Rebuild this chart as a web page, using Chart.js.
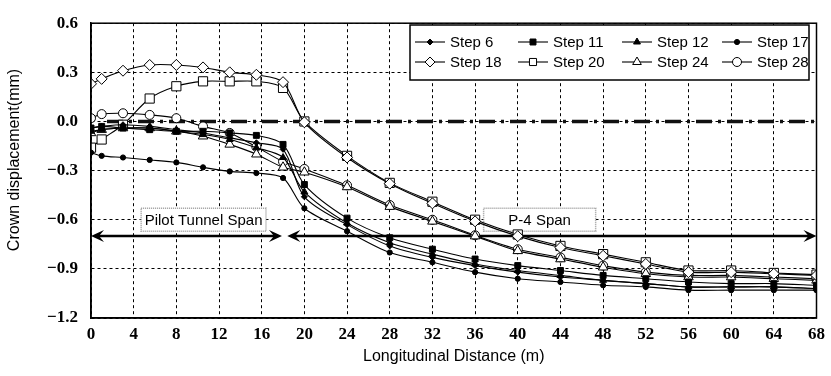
<!DOCTYPE html>
<html>
<head>
<meta charset="utf-8">
<script src="https://cdn.jsdelivr.net/npm/chart.js@4.4.0/dist/chart.umd.min.js"></script>
<style>
  html, body { margin: 0; padding: 0; background: #fff; }
  #wrap { width: 831px; height: 376px; }
</style>
</head>
<body>
<div id="wrap"><canvas id="crownChart" width="831" height="376"></canvas></div>
<script>
// longitudinal distance (m)
const distance = [0, 1, 3, 5.5, 8, 10.5, 13, 15.5, 18, 20, 24, 28, 32, 36, 40, 44, 48, 52, 56, 60, 64, 68];

// crown displacement (mm) per excavation step
const step6  = [-0.04, -0.03, -0.02, -0.03, -0.05, -0.07, -0.10, -0.13, -0.17, -0.46, -0.63, -0.76, -0.83, -0.88, -0.92, -0.95, -0.97, -0.99, -1.01, -1.01, -1.01, -1.02];
const step11 = [-0.04, -0.03, -0.04, -0.05, -0.06, -0.06, -0.07, -0.085, -0.14, -0.385, -0.59, -0.71, -0.78, -0.84, -0.88, -0.91, -0.94, -0.96, -0.98, -0.99, -0.99, -1.00];
const step12 = [-0.06, -0.05, -0.04, -0.04, -0.06, -0.08, -0.11, -0.16, -0.22, -0.43, -0.62, -0.74, -0.81, -0.87, -0.91, -0.94, -0.97, -0.99, -1.01, -1.01, -1.01, -1.02];
const step17 = [-0.19, -0.21, -0.22, -0.235, -0.25, -0.28, -0.305, -0.315, -0.345, -0.53, -0.67, -0.80, -0.86, -0.92, -0.96, -0.98, -1.00, -1.01, -1.03, -1.03, -1.03, -1.03];
const step18 = [0.23, 0.26, 0.31, 0.345, 0.345, 0.33, 0.30, 0.285, 0.24, -0.005, -0.22, -0.38, -0.50, -0.61, -0.70, -0.77, -0.82, -0.87, -0.92, -0.92, -0.93, -0.94];
const step20 = [-0.16, -0.11, -0.02, 0.14, 0.215, 0.245, 0.245, 0.245, 0.205, 0.0, -0.21, -0.375, -0.49, -0.60, -0.69, -0.76, -0.81, -0.86, -0.91, -0.91, -0.925, -0.935];
const step24 = [-0.07, -0.05, -0.04, -0.04, -0.06, -0.09, -0.14, -0.20, -0.28, -0.31, -0.40, -0.52, -0.61, -0.70, -0.79, -0.84, -0.89, -0.93, -0.95, -0.95, -0.96, -0.97];
const step28 = [0.02, 0.045, 0.05, 0.04, 0.02, -0.03, -0.07, -0.155, -0.245, -0.29, -0.39, -0.51, -0.60, -0.695, -0.78, -0.83, -0.88, -0.92, -0.94, -0.94, -0.95, -0.96];

// zero reference (thick dashed)
const zeroLineX = [1.5, 68];
const zeroLineY = [0, 0];

// axis ticks
const xTicks = { min: 0, max: 68, step: 4 };
const yTicks = { min: -1.2, max: 0.6, step: 0.3 };

// span annotations (data units)
const spanArrowY = -0.7;
const spanArrows = [[0, 17.9], [18.4, 68]];
const spanLabels = [
    { text: 'Pilot Tunnel Span', x0: 4.7, x1: 16.4, y0: -0.53, y1: -0.67 },
    { text: 'P-4 Span', x0: 36.8, x1: 47.3, y0: -0.53, y1: -0.67 }
];

function toPoints(ys, xs) {
    return ys.map((y, i) => ({ x: (xs || distance)[i], y: y }));
}

function series(label, ys, style, radius, filled) {
    return {
        label: label,
        data: toPoints(ys),
        borderColor: '#000',
        borderWidth: 1.1,
        pointStyle: style,
        pointRadius: radius,
        pointBorderWidth: 1,
        pointBorderColor: '#000',
        pointBackgroundColor: filled ? '#000' : '#fff',
        tension: 0.3,
        fill: false
    };
}

const datasets = [
    series('Step 6', step6, 'rectRot', 3, true),
    series('Step 11', step11, 'rect', 4.2, true),
    series('Step 12', step12, 'triangle', 4, true),
    series('Step 17', step17, 'circle', 2.6, true),
    series('Step 18', step18, 'rectRot', 5.5, false),
    series('Step 20', step20, 'rect', 6.5, false),
    series('Step 24', step24, 'triangle', 5.5, false),
    series('Step 28', step28, 'circle', 4.5, false),
    {
        label: 'zero',
        data: toPoints(zeroLineY, zeroLineX),
        borderColor: '#111',
        borderWidth: 3.5,
        borderDash: [16, 6, 3, 6],
        pointRadius: 0,
        tension: 0,
        fill: false,
        order: 10
    }
];

function fmt(v) {
    const s = Number(v).toFixed(1);
    return s === '-0.0' ? '0.0' : s.replace('-', '\u2212');
}

function drawArrowHead(ctx, x, y, dir) {
    ctx.beginPath();
    ctx.moveTo(x, y);
    ctx.lineTo(x - dir * 13, y - 6);
    ctx.lineTo(x - dir * 8, y);
    ctx.lineTo(x - dir * 13, y + 6);
    ctx.closePath();
    ctx.fill();
}

const overlay = {
    id: 'overlay',
    beforeDatasetsDraw(chart) {
        const { ctx, scales: { x, y } } = chart;
        ctx.save();
        // span arrows
        ctx.strokeStyle = '#000';
        ctx.fillStyle = '#000';
        ctx.lineWidth = 2.5;
        const ay = y.getPixelForValue(spanArrowY);
        spanArrows.forEach(([a, b]) => {
            const xa = x.getPixelForValue(a), xb = x.getPixelForValue(b);
            ctx.beginPath();
            ctx.moveTo(xa + 6, ay);
            ctx.lineTo(xb - 6, ay);
            ctx.stroke();
            drawArrowHead(ctx, xa, ay, -1);
            drawArrowHead(ctx, xb, ay, 1);
        });
        // span label boxes
        ctx.font = '15px "Liberation Sans", Arial, sans-serif';
        ctx.textAlign = 'center';
        ctx.textBaseline = 'middle';
        spanLabels.forEach(l => {
            const x0 = x.getPixelForValue(l.x0), x1 = x.getPixelForValue(l.x1);
            const y0 = y.getPixelForValue(l.y0), y1 = y.getPixelForValue(l.y1);
            ctx.fillStyle = '#fff';
            ctx.fillRect(x0, y0, x1 - x0, y1 - y0);
            ctx.setLineDash([1, 1]);
            ctx.lineWidth = 1.5;
            ctx.strokeStyle = '#999';
            ctx.strokeRect(x0, y0, x1 - x0, y1 - y0);
            ctx.setLineDash([]);
            ctx.fillStyle = '#000';
            ctx.fillText(l.text, (x0 + x1) / 2, (y0 + y1) / 2 + 1);
        });
        ctx.restore();
    },
    afterDraw(chart) {
        const { ctx, chartArea: a } = chart;
        ctx.save();
        // plot frame
        ctx.strokeStyle = '#000';
        ctx.lineWidth = 1.5;
        ctx.strokeRect(a.left, a.top, a.right - a.left, a.bottom - a.top);

        // y axis title
        ctx.font = '16px "Liberation Sans", Arial, sans-serif';
        ctx.fillStyle = '#000';
        ctx.textAlign = 'center';
        ctx.textBaseline = 'middle';
        ctx.translate(15, 160);
        ctx.rotate(-Math.PI / 2);
        ctx.fillText('Crown displacement(mm)', 0, 0);
        ctx.restore();

        // legend
        ctx.save();
        const bx = 410, by = 25, bw = 399, bh = 55;
        ctx.fillStyle = '#fff';
        ctx.fillRect(bx, by, bw, bh);
        ctx.strokeStyle = '#000';
        ctx.lineWidth = 1.5;
        ctx.strokeRect(bx, by, bw, bh);
        ctx.font = '15px "Liberation Sans", Arial, sans-serif';
        ctx.textAlign = 'left';
        ctx.textBaseline = 'middle';
        const cols = [415, 518, 622, 722];
        const rows = [42, 62];
        chart.data.datasets.slice(0, 8).forEach((ds, i) => {
            const lx = cols[i % 4], ly = rows[Math.floor(i / 4)];
            ctx.strokeStyle = '#000';
            ctx.lineWidth = 1.1;
            ctx.beginPath();
            ctx.moveTo(lx, ly);
            ctx.lineTo(lx + 30, ly);
            ctx.stroke();
            ctx.fillStyle = ds.pointBackgroundColor;
            ctx.strokeStyle = '#000';
            ctx.lineWidth = 1;
            Chart.helpers.drawPoint(ctx, {
                pointStyle: ds.pointStyle,
                radius: Math.min(ds.pointRadius, 5),
                rotation: 0,
                borderWidth: 1
            }, lx + 15, ly);
            ctx.fillStyle = '#000';
            ctx.fillText(ds.label, lx + 35, ly + 1);
        });
        ctx.restore();
    }
};

const tickFont = { family: '"Liberation Serif", "Times New Roman", serif', size: 17, weight: 'bold' };

new Chart(document.getElementById('crownChart'), {
    type: 'line',
    data: { datasets: datasets },
    options: {
        responsive: false,
        animation: false,
        layout: { padding: { left: 0, right: 8, top: 13, bottom: 0 } },
        plugins: {
            legend: { display: false },
            tooltip: { enabled: false }
        },
        scales: {
            x: {
                type: 'linear',
                min: xTicks.min,
                max: xTicks.max,
                afterFit: s => { s.height = 58; },
                ticks: {
                    stepSize: xTicks.step,
                    color: '#000',
                    font: tickFont,
                    padding: 6,
                    maxRotation: 0
                },
                grid: { color: '#000', lineWidth: 1, drawTicks: false },
                border: { display: true, color: '#000', width: 1.5, dash: [3, 3] },
                title: {
                    display: true,
                    text: 'Longitudinal Distance (m)',
                    color: '#000',
                    font: { family: '"Liberation Sans", Arial, sans-serif', size: 16 },
                    padding: { top: 0, bottom: 10 }
                }
            },
            y: {
                type: 'linear',
                min: yTicks.min,
                max: yTicks.max,
                afterFit: s => { s.width = 91; },
                ticks: {
                    stepSize: yTicks.step,
                    color: '#000',
                    font: tickFont,
                    padding: 13,
                    callback: v => fmt(v)
                },
                grid: { color: '#000', lineWidth: 1, drawTicks: false },
                border: { display: true, color: '#000', width: 1.5, dash: [3, 3] }
            }
        }
    },
    plugins: [overlay]
});
</script>
</body>
</html>
